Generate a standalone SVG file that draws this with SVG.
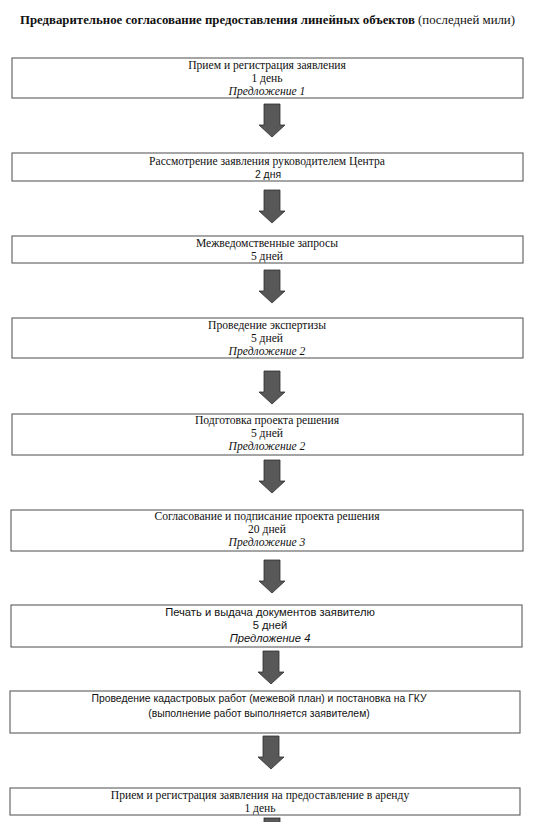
<svg xmlns="http://www.w3.org/2000/svg" width="535" height="822" viewBox="0 0 535 822">
<style>
  .bg{fill:#ffffff}
  .box{fill:#ffffff;stroke:#5c5c5c;stroke-width:1.1}
  .t{font-family:"Liberation Serif","Times New Roman",serif;font-size:11.6px;fill:#111;text-anchor:middle}
  .s{font-family:"Liberation Sans",Arial,sans-serif;font-size:10.4px;fill:#111;text-anchor:middle}
  .s7{font-size:11.2px}
  .i{font-style:italic}
  .title{font-family:"Liberation Serif","Times New Roman",serif;font-size:12.8px;fill:#111}
  .arr{fill:#585858;stroke:#2e2e2e;stroke-width:0.8}
</style>
<defs>
  <path id="arrow" d="M-8,0 H8 V21 H13 L0,33 L-13,21 H-8 Z"/>
</defs>
<rect class="bg" x="0" y="0" width="535" height="822"/>
<text class="title" x="20" y="24"><tspan font-weight="bold">Предварительное согласование предоставления линейных объектов</tspan> (последней мили)</text>

<g id="connectors">
  <use href="#arrow" class="arr" transform="translate(272,104)"/>
  <use href="#arrow" class="arr" transform="translate(272,190)"/>
  <use href="#arrow" class="arr" transform="translate(272,270)"/>
  <use href="#arrow" class="arr" transform="translate(272,371)"/>
  <use href="#arrow" class="arr" transform="translate(272,460)"/>
  <use href="#arrow" class="arr" transform="translate(272,560)"/>
  <use href="#arrow" class="arr" transform="translate(271,651)"/>
  <use href="#arrow" class="arr" transform="translate(271,736)"/>
  <rect class="arr" x="264" y="818" width="16" height="6"/>
</g>

<g id="n1">
  <rect class="box" x="12" y="58" width="511" height="40"/>
  <text class="t" x="267" y="69">Прием и регистрация заявления</text>
  <text class="t" x="267" y="82">1 день</text>
  <text class="t i" x="267" y="95">Предложение 1</text>
</g>
<g id="n2">
  <rect class="box" x="12" y="153" width="511" height="28"/>
  <text class="t" x="267" y="165">Рассмотрение заявления руководителем Центра</text>
  <text class="s" x="268" y="178">2 дня</text>
</g>
<g id="n3">
  <rect class="box" x="12" y="236" width="511" height="27"/>
  <text class="t" x="267" y="247">Межведомственные запросы</text>
  <text class="t" x="267" y="260">5 дней</text>
</g>
<g id="n4">
  <rect class="box" x="12" y="318" width="511" height="40"/>
  <text class="t" x="267" y="329">Проведение экспертизы</text>
  <text class="t" x="267" y="342">5 дней</text>
  <text class="t i" x="267" y="355">Предложение 2</text>
</g>
<g id="n5">
  <rect class="box" x="12" y="414" width="511" height="41"/>
  <text class="t" x="267" y="424">Подготовка проекта решения</text>
  <text class="t" x="267" y="437">5 дней</text>
  <text class="t i" x="267" y="450">Предложение 2</text>
</g>
<g id="n6">
  <rect class="box" x="11" y="510" width="512" height="41"/>
  <text class="t" x="267" y="520">Согласование и подписание проекта решения</text>
  <text class="t" x="267" y="533">20 дней</text>
  <text class="t i" x="267" y="546">Предложение 3</text>
</g>
<g id="n7">
  <rect class="box" x="11" y="605" width="511" height="42"/>
  <text class="s s7" x="270" y="616">Печать и выдача документов заявителю</text>
  <text class="s s7" x="270" y="629">5 дней</text>
  <text class="s s7 i" x="270" y="642">Предложение 4</text>
</g>
<g id="n8">
  <rect class="box" x="10" y="691" width="510" height="42"/>
  <text class="s" x="259" y="702">Проведение кадастровых работ (межевой план) и постановка на ГКУ</text>
  <text class="s" x="259" y="717">(выполнение работ выполняется заявителем)</text>
</g>
<g id="n9">
  <rect class="box" x="10" y="788" width="510" height="27"/>
  <text class="t" x="260" y="799">Прием и регистрация заявления на предоставление в аренду</text>
  <text class="t" x="260" y="812">1 день</text>
</g>
</svg>
